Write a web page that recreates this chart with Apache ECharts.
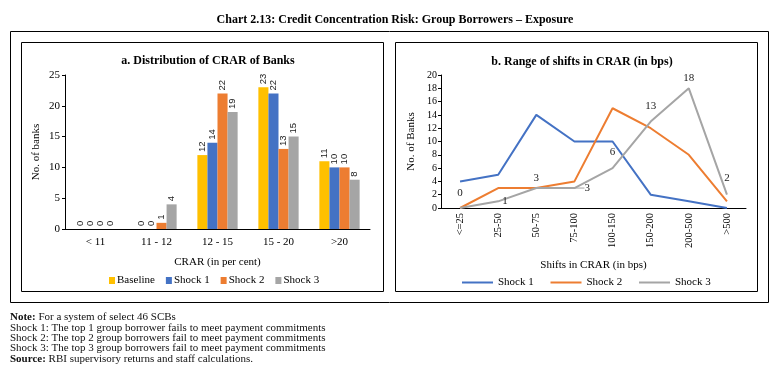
<!DOCTYPE html>
<html>
<head>
<meta charset="utf-8">
<script src="https://cdn.jsdelivr.net/npm/echarts@6/dist/echarts.min.js"></script>
<style>
  html, body { margin: 0; padding: 0; background: #fff; }
  #chart { width: 780px; height: 375px; }
</style>
</head>
<body>
<div id="chart"></div>
<script>
// panel a: distribution of CRAR
const crarBands = ['< 11', '11 - 12', '12 - 15', '15 - 20', '>20'];
const baseline = [0, 0, 12, 23, 11];
const shock1Banks = [0, 0, 14, 22, 10];
const shock2Banks = [0, 1, 22, 13, 10];
const shock3Banks = [0, 4, 19, 15, 8];

// panel b: range of shifts in CRAR
const shiftBands = ['<=25', '25-50', '50-75', '75-100', '100-150', '150-200', '200-500', '>500'];
const shock1Shift = [4, 5, 14, 10, 10, 2, 1, 0];
const shock2Shift = [0, 3, 3, 4, 15, 12, 8, 1];
const shock3Shift = [0, 1, 3, 3, 6, 13, 18, 2];

const serif = 'Liberation Serif';
const colors = { base: '#FFC000', s1: '#4472C4', s2: '#ED7D31', s3: '#A5A5A5' };

const chart = echarts.init(document.getElementById('chart'));

function barSeries(name, data, color) {
    return {
        name: name,
        type: 'bar',
        xAxisIndex: 0,
        yAxisIndex: 0,
        data: data,
        barGap: '0%',
        barCategoryGap: '34%',
        itemStyle: { color: color },
        label: {
            show: true,
            position: 'top',
            rotate: 90,
            align: 'left',
            verticalAlign: 'middle',
            distance: 3,
            fontFamily: 'Liberation Sans',
            fontSize: 9.5,
            color: '#222'
        }
    };
}

// where the shock 3 labels sit around each point
const shock3LabelPos = [
    { position: 'top', distance: 9, offset: [-3, 0] },
    { position: 'right', distance: 4, offset: [0, -3] },
    { position: 'top', distance: 4, offset: [5, 0] },
    { position: 'right', distance: 3, offset: [0, 3] },
    { position: 'top', distance: 10, offset: [-2, 0] },
    { position: 'top', distance: 10, offset: [-2, 0] },
    { position: 'top', distance: 5, offset: [0, 0] },
    { position: 'top', distance: 11, offset: [0, 0] }
];

const axisLine = { lineStyle: { color: '#000', width: 1 } };
const tickStyle = { lineStyle: { color: '#000' }, length: 4 };

const option = {
    animation: false,
    textStyle: { fontFamily: serif },
    title: [
        {
            text: 'Chart 2.13: Credit Concentration Risk: Group Borrowers \u2013 Exposure',
            left: 390, top: 9, textAlign: 'center',
            textStyle: { fontFamily: serif, fontSize: 12, fontWeight: 'bold', color: '#000' }
        },
        {
            text: 'a. Distribution of CRAR of Banks',
            left: 203, top: 50, textAlign: 'center',
            textStyle: { fontFamily: serif, fontSize: 12, fontWeight: 'bold', color: '#000' }
        },
        {
            text: 'b. Range of shifts in CRAR (in bps)',
            left: 577, top: 51, textAlign: 'center',
            textStyle: { fontFamily: serif, fontSize: 12, fontWeight: 'bold', color: '#000' }
        }
    ],
    graphic: [
        { type: 'rect', shape: { x: 10.5, y: 31.5, width: 758, height: 271 }, style: { fill: 'none', stroke: '#000', lineWidth: 1 } },
        { type: 'rect', shape: { x: 21.5, y: 42.5, width: 362, height: 249 }, style: { fill: 'none', stroke: '#000', lineWidth: 1 } },
        { type: 'rect', shape: { x: 395.5, y: 42.5, width: 362, height: 249 }, style: { fill: 'none', stroke: '#000', lineWidth: 1 } },
        {
            type: 'text', left: 10, top: 312,
            style: {
                text: '{b|Note:} For a system of select 46 SCBs\nShock 1: The top 1 group borrower fails to meet payment commitments\nShock 2: The top 2 group borrowers fail to meet payment commitments\nShock 3: The top 3 group borrowers fail to meet payment commitments\n{b|Source:} RBI supervisory returns and staff calculations.',
                fontFamily: serif, fontSize: 11, lineHeight: 10.3, fill: '#111',
                rich: { b: { fontFamily: serif, fontSize: 11, fontWeight: 'bold', fill: '#111' } }
            }
        }
    ],
    legend: [
        {
            data: ['Baseline', 'Shock 1', 'Shock 2', 'Shock 3'].map(n => ({ name: n })),
            left: 104, top: 270,
            itemWidth: 6, itemHeight: 7, itemGap: 11,
            icon: 'rect',
            textStyle: { fontFamily: serif, fontSize: 11, color: '#000', padding: [0, 0, 0, -3] }
        },
        {
            data: ['Shock 1 ', 'Shock 2 ', 'Shock 3 '].map(n => ({ name: n })),
            left: 457, top: 272,
            itemWidth: 31, itemHeight: 2, itemGap: 14,
            icon: 'rect',
            textStyle: { fontFamily: serif, fontSize: 11, color: '#000' }
        }
    ],
    grid: [
        { left: 65, right: 410, top: 75, bottom: 146 },
        { left: 441, right: 34, top: 75, bottom: 167 }
    ],
    xAxis: [
        {
            type: 'category', gridIndex: 0, data: crarBands,
            axisLine: axisLine,
            axisTick: Object.assign({ alignWithLabel: false }, tickStyle),
            axisLabel: { fontFamily: serif, fontSize: 11, color: '#000', margin: 8 },
            name: 'CRAR (in per cent)', nameLocation: 'middle', nameGap: 28,
            nameTextStyle: { fontFamily: serif, fontSize: 11, color: '#000' }
        },
        {
            type: 'category', gridIndex: 1, data: shiftBands,
            axisLine: axisLine,
            axisTick: tickStyle,
            axisLabel: { fontFamily: serif, fontSize: 10.5, color: '#000', rotate: 90, margin: 5, interval: 0 },
            name: 'Shifts in CRAR (in bps)', nameLocation: 'middle', nameGap: 52,
            nameTextStyle: { fontFamily: serif, fontSize: 11, color: '#000' }
        }
    ],
    yAxis: [
        {
            type: 'value', gridIndex: 0, min: 0, max: 25, interval: 5,
            axisLine: { show: true, lineStyle: { color: '#000' } },
            axisTick: { show: true, lineStyle: { color: '#000' }, length: 3 },
            splitLine: { show: false },
            axisLabel: { fontFamily: serif, fontSize: 11, color: '#000', margin: 5 },
            name: 'No. of banks', nameLocation: 'middle', nameGap: 23,
            nameTextStyle: { fontFamily: serif, fontSize: 11, color: '#000' }
        },
        {
            type: 'value', gridIndex: 1, min: 0, max: 20, interval: 2,
            axisLine: { show: true, lineStyle: { color: '#000' } },
            axisTick: { show: true, lineStyle: { color: '#000' }, length: 3 },
            splitLine: { show: false },
            axisLabel: { fontFamily: serif, fontSize: 10, color: '#000', margin: 4 },
            name: 'No. of Banks', nameLocation: 'middle', nameGap: 24,
            nameTextStyle: { fontFamily: serif, fontSize: 11, color: '#000' }
        }
    ],
    series: [
        barSeries('Baseline', baseline, colors.base),
        barSeries('Shock 1', shock1Banks, colors.s1),
        barSeries('Shock 2', shock2Banks, colors.s2),
        barSeries('Shock 3', shock3Banks, colors.s3),
        {
            name: 'Shock 1 ', type: 'line', xAxisIndex: 1, yAxisIndex: 1,
            data: shock1Shift, symbol: 'none', color: '#4472C4',
            lineStyle: { width: 2, color: '#4472C4' }
        },
        {
            name: 'Shock 2 ', type: 'line', xAxisIndex: 1, yAxisIndex: 1,
            data: shock2Shift, symbol: 'none', color: colors.s2,
            lineStyle: { width: 2, color: colors.s2 }
        },
        {
            name: 'Shock 3 ', type: 'line', xAxisIndex: 1, yAxisIndex: 1,
            data: shock3Shift.map((v, i) => ({
                value: v,
                label: Object.assign({ show: true }, shock3LabelPos[i]),
                labelLine: { show: i === 3 }
            })),
            symbol: 'circle', symbolSize: 0, showSymbol: true, color: colors.s3,
            lineStyle: { width: 2, color: colors.s3 },
            label: { show: true, fontFamily: serif, fontSize: 11, color: '#222' },
            labelLine: { show: false, lineStyle: { color: colors.s3, width: 1 } },
            // pushes the 75-100 label out so that its leader line shows
            labelLayout: function (params) {
                if (params.dataIndex === 3) return { dx: 7 };
                return {};
            }
        }
    ]
};

chart.setOption(option);
</script>
</body>
</html>
